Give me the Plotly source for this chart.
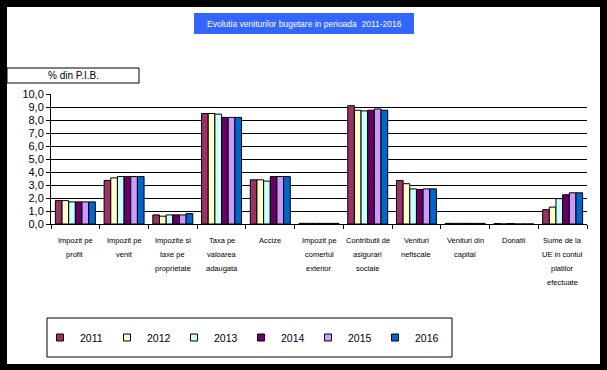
import plotly.graph_objects as go

W, H = 607, 370

categories = ["Impozit pe profit", "Impozit pe venit", "Impozite si taxe pe proprietate",
              "Taxa pe valoarea adaugata", "Accize", "Impozit pe comertul exterior",
              "Contributii de asigurari sociale", "Venituri nefiscale", "Venituri din capital",
              "Donatii", "Sume de la UE in contul platilor efectuate"]
category_lines = [["Impozit pe", "profit"], ["Impozit pe", "venit"],
                  ["Impozite si", "taxe pe", "proprietate"], ["Taxa pe", "valoarea", "adaugata"],
                  ["Accize"], ["Impozit pe", "comertul", "exterior"],
                  ["Contributii de", "asigurari", "sociale"], ["Venituri", "nefiscale"],
                  ["Venituri din", "capital"], ["Donatii"],
                  ["Sume de la", "UE in contul", "platilor", "efectuate"]]

years = ["2011", "2012", "2013", "2014", "2015", "2016"]
v2011 = [1.8, 3.35, 0.7, 8.5, 3.4, 0.05, 9.1, 3.35, 0.05, 0.04, 1.1]
v2012 = [1.8, 3.55, 0.6, 8.5, 3.4, 0.05, 8.75, 3.1, 0.05, 0.0, 1.3]
v2013 = [1.7, 3.65, 0.7, 8.45, 3.3, 0.05, 8.7, 2.7, 0.05, 0.04, 1.95]
v2014 = [1.7, 3.65, 0.7, 8.2, 3.65, 0.05, 8.75, 2.65, 0.05, 0.0, 2.25]
v2015 = [1.7, 3.65, 0.7, 8.2, 3.65, 0.05, 8.85, 2.7, 0.05, 0.0, 2.4]
v2016 = [1.7, 3.65, 0.8, 8.2, 3.65, 0.05, 8.75, 2.7, 0.05, 0.0, 2.4]
series = [v2011, v2012, v2013, v2014, v2015, v2016]
colors = ["#993366", "#FFFFCC", "#CCFFFF", "#660066", "#CC99FF", "#0066CC"]

title_text = "Evolutia veniturilor bugetare in perioada  2011-2016"
unit_text = "% din P.I.B."

ARIAL = "Liberation Sans, Arial, sans-serif"

def px(x):
    return x / W

def py(y):
    return 1 - y / H

fig = go.Figure()
for name, vals, col in zip(years, series, colors):
    fig.add_trace(go.Bar(x=categories, y=vals, name=name, marker_color=col,
                         marker_line=dict(color="black", width=1), showlegend=False))
    fig.add_trace(go.Scatter(x=[None], y=[None], mode="markers", name=name,
                             marker=dict(symbol="square", size=7, color=col,
                                         line=dict(color="black", width=1))))

shapes = [
    dict(type="rect", xref="paper", yref="paper", x0=px(7), x1=px(600), y0=py(7), y1=py(364),
         fillcolor="white", line=dict(width=0), layer="below"),
    dict(type="rect", xref="paper", yref="paper", x0=px(194), x1=px(414), y0=py(13), y1=py(34),
         fillcolor="#3366FF", line=dict(width=0), layer="below"),
    dict(type="rect", xref="paper", yref="paper", x0=px(7), x1=px(139), y0=py(68), y1=py(83),
         fillcolor="white", line=dict(color="black", width=1), layer="below"),
    dict(type="rect", xref="paper", yref="paper", x0=px(47), x1=px(452), y0=py(318), y1=py(357),
         fillcolor="white", line=dict(color="black", width=1), layer="below"),
]

annotations = [
    dict(text=title_text, xref="paper", yref="paper", x=px(304), y=py(23.5), showarrow=False,
         font=dict(family=ARIAL, size=8.5, color="white"), xanchor="center", yanchor="middle"),
    dict(text=unit_text, xref="paper", yref="paper", x=px(73), y=py(75.5), showarrow=False,
         font=dict(family=ARIAL, size=10, color="black"), xanchor="center", yanchor="middle"),
]
for cat, lines in zip(categories, category_lines):
    for i, ln in enumerate(lines):
        annotations.append(dict(text=ln, x=cat, xref="x", yref="paper", y=py(240 + 14 * i),
                                showarrow=False, xanchor="center", yanchor="middle",
                                font=dict(family=ARIAL, size=7.5, color="black")))

fig.update_layout(
    width=W, height=H,
    margin=dict(l=0, r=0, t=0, b=0, autoexpand=False),
    paper_bgcolor="black", plot_bgcolor="white",
    barmode="group", bargap=0.18, bargroupgap=0,
    separators=",.",
    shapes=shapes, annotations=annotations,
    showlegend=True,
    legend=dict(orientation="h", x=px(40), y=py(337.5), xanchor="left", yanchor="middle",
                bgcolor="rgba(0,0,0,0)", borderwidth=0,
                font=dict(family=ARIAL, size=10.5, color="black"),
                entrywidth=22, entrywidthmode="pixels", itemwidth=30, tracegroupgap=0),
    xaxis=dict(domain=[px(51), px(587)], showticklabels=False, ticks="outside",
               tickson="boundaries", ticklen=4, tickcolor="black", showline=True,
               linecolor="black", linewidth=1, showgrid=False, fixedrange=True),
    yaxis=dict(domain=[py(224), py(94)], range=[0, 10], dtick=1, tickformat=".1f",
               ticks="outside", ticklen=4, tickcolor="black", showline=True,
               linecolor="black", linewidth=1, showgrid=True, gridcolor="black",
               gridwidth=1, zeroline=False, fixedrange=True,
               tickfont=dict(family=ARIAL, size=11, color="black")),
)

fig.write_html("out.html", config={"displayModeBar": False},
               post_script="document.body.style.margin='0px';document.body.style.background='black';")
